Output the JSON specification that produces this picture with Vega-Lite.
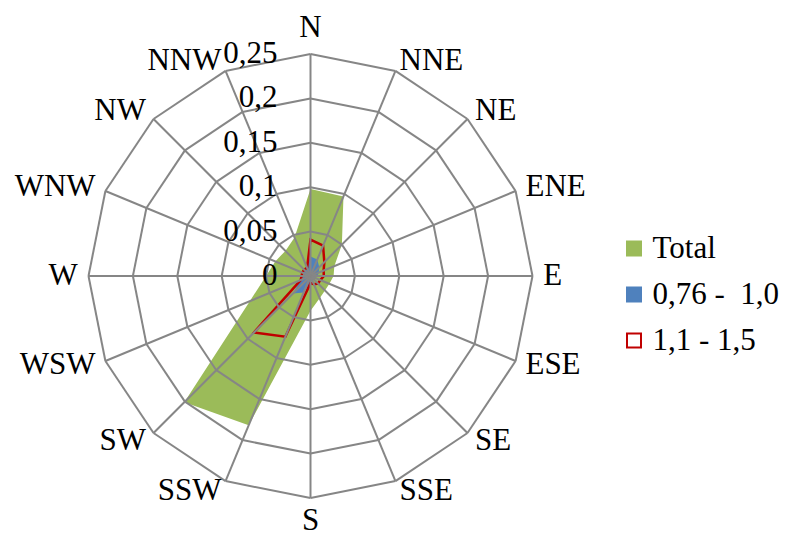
{
  "$schema": "https://vega.github.io/schema/vega-lite/v6.json",
  "width": 444,
  "height": 444,
  "autosize": {"type": "none"},
  "padding": {"left": 88.5, "top": 54, "right": 253.5, "bottom": 40},
  "background": "white",
  "config": {
    "view": {"stroke": null},
    "text": {"font": "Liberation Serif, Times New Roman, serif", "fontSize": 31, "color": "black"},
    "legend": {
      "orient": "none", "legendX": 530, "legendY": 179, "title": null,
      "symbolType": "square", "symbolSize": 196, "symbolStrokeWidth": 2,
      "labelFont": "Liberation Serif, Times New Roman, serif", "labelFontSize": 31, "labelColor": "black",
      "labelOffset": 3, "rowPadding": 14
    }
  },
  "datasets": {
    "dirs": [
      {"i": 0, "dir": "N", "total": 0.098, "blue": 0.022, "red": 0.041},
      {"i": 1, "dir": "NNE", "total": 0.097, "blue": 0.02, "red": 0.037},
      {"i": 2, "dir": "NE", "total": 0.05, "blue": 0.014, "red": 0.022},
      {"i": 3, "dir": "ENE", "total": 0.029, "blue": 0.01, "red": 0.016},
      {"i": 4, "dir": "E", "total": 0.026, "blue": 0.008, "red": 0.015},
      {"i": 5, "dir": "ESE", "total": 0.023, "blue": 0.006, "red": 0.012},
      {"i": 6, "dir": "SE", "total": 0.023, "blue": 0.005, "red": 0.012},
      {"i": 7, "dir": "SSE", "total": 0.027, "blue": 0.005, "red": 0.01},
      {"i": 8, "dir": "S", "total": 0.039, "blue": 0.008, "red": 0.008},
      {"i": 9, "dir": "SSW", "total": 0.182, "blue": 0.02, "red": 0.074},
      {"i": 10, "dir": "SW", "total": 0.201, "blue": 0.028, "red": 0.09},
      {"i": 11, "dir": "WSW", "total": 0.074, "blue": 0.012, "red": 0.012},
      {"i": 12, "dir": "W", "total": 0.05, "blue": 0.008, "red": 0.01},
      {"i": 13, "dir": "WNW", "total": 0.043, "blue": 0.008, "red": 0.01},
      {"i": 14, "dir": "NW", "total": 0.04, "blue": 0.01, "red": 0.01},
      {"i": 15, "dir": "NNW", "total": 0.047, "blue": 0.012, "red": 0.01}
    ],
    "levels": [
      {"v": 0, "label": "0"},
      {"v": 0.05, "label": "0,05"},
      {"v": 0.1, "label": "0,1"},
      {"v": 0.15, "label": "0,15"},
      {"v": 0.2, "label": "0,2"},
      {"v": 0.25, "label": "0,25"}
    ]
  },
  "layer": [
    {
      "data": {"name": "dirs"},
      "transform": [
        {"fold": ["total", "blue"], "as": ["series", "value"]},
        {"calculate": "datum.value * sin(datum.i * PI / 8)", "as": "px"},
        {"calculate": "datum.value * cos(datum.i * PI / 8)", "as": "py"}
      ],
      "mark": {"type": "line", "interpolate": "linear-closed", "filled": true, "strokeWidth": 0},
      "encoding": {
        "x": {"field": "px", "type": "quantitative", "scale": {"domain": [-0.25, 0.25], "nice": false, "zero": false}, "axis": null},
        "y": {"field": "py", "type": "quantitative", "scale": {"domain": [-0.25, 0.25], "nice": false, "zero": false}, "axis": null},
        "order": {"field": "i", "type": "quantitative"},
        "fill": {
          "field": "series", "type": "nominal",
          "scale": {"domain": ["total", "blue", "red"], "range": ["#9BBB59", "#4F81BD", "#ffffff"]},
          "legend": {
            "labelExpr": "datum.value == 'total' ? 'Total' : datum.value == 'blue' ? '0,76 -\u00a0 1,0' : '1,1 - 1,5'"
          }
        }
      }
    },
    {
      "data": {"name": "dirs"},
      "transform": [
        {"fold": ["red"], "as": ["series", "value"]},
        {"calculate": "datum.value * sin(datum.i * PI / 8)", "as": "px"},
        {"calculate": "datum.value * cos(datum.i * PI / 8)", "as": "py"}
      ],
      "mark": {"type": "line", "interpolate": "linear-closed", "strokeWidth": 2.5},
      "encoding": {
        "x": {"field": "px", "type": "quantitative"},
        "y": {"field": "py", "type": "quantitative"},
        "order": {"field": "i", "type": "quantitative"},
        "stroke": {
          "field": "series", "type": "nominal",
          "scale": {"domain": ["total", "blue", "red"], "range": ["#9BBB59", "#4F81BD", "#C00000"]},
          "legend": {
            "labelExpr": "datum.value == 'total' ? 'Total' : datum.value == 'blue' ? '0,76 -\u00a0 1,0' : '1,1 - 1,5'"
          }
        }
      }
    },
    {
      "data": {"name": "dirs"},
      "transform": [
        {"calculate": "[0.05, 0.1, 0.15, 0.2, 0.25]", "as": "lv"},
        {"flatten": ["lv"]},
        {"calculate": "datum.lv * sin(datum.i * PI / 8)", "as": "ax"},
        {"calculate": "datum.lv * cos(datum.i * PI / 8)", "as": "ay"},
        {"calculate": "datum.lv * sin((datum.i + 1) * PI / 8)", "as": "bx"},
        {"calculate": "datum.lv * cos((datum.i + 1) * PI / 8)", "as": "by"}
      ],
      "mark": {"type": "rule", "color": "#868686", "strokeWidth": 2},
      "encoding": {
        "x": {"field": "ax", "type": "quantitative"},
        "y": {"field": "ay", "type": "quantitative"},
        "x2": {"field": "bx"},
        "y2": {"field": "by"}
      }
    },
    {
      "data": {"name": "dirs"},
      "transform": [
        {"calculate": "0", "as": "ox"},
        {"calculate": "0.25 * sin(datum.i * PI / 8)", "as": "ex"},
        {"calculate": "0.25 * cos(datum.i * PI / 8)", "as": "ey"}
      ],
      "mark": {"type": "rule", "color": "#868686", "strokeWidth": 2},
      "encoding": {
        "x": {"field": "ox", "type": "quantitative"},
        "y": {"field": "ox", "type": "quantitative"},
        "x2": {"field": "ex"},
        "y2": {"field": "ey"}
      }
    },
    {
      "data": {"name": "levels"},
      "transform": [{"calculate": "0", "as": "ox"}],
      "mark": {"type": "text", "align": "right", "baseline": "middle", "dx": -33},
      "encoding": {
        "x": {"field": "ox", "type": "quantitative"},
        "y": {"field": "v", "type": "quantitative"},
        "text": {"field": "label"}
      }
    },
    {
      "data": {"name": "dirs"},
      "transform": [
        {"filter": "datum.i >= 1 && datum.i <= 7"},
        {"calculate": "0.262 * sin(datum.i * PI / 8)", "as": "lx"},
        {"calculate": "0.262 * cos(datum.i * PI / 8)", "as": "ly"}
      ],
      "mark": {"type": "text", "align": "left", "baseline": "middle"},
      "encoding": {
        "x": {"field": "lx", "type": "quantitative"},
        "y": {"field": "ly", "type": "quantitative"},
        "text": {"field": "dir"}
      }
    },
    {
      "data": {"name": "dirs"},
      "transform": [
        {"filter": "datum.i >= 9"},
        {"calculate": "0.262 * sin(datum.i * PI / 8)", "as": "lx"},
        {"calculate": "0.262 * cos(datum.i * PI / 8)", "as": "ly"}
      ],
      "mark": {"type": "text", "align": "right", "baseline": "middle"},
      "encoding": {
        "x": {"field": "lx", "type": "quantitative"},
        "y": {"field": "ly", "type": "quantitative"},
        "text": {"field": "dir"}
      }
    },
    {
      "data": {"name": "dirs"},
      "transform": [
        {"filter": "datum.i == 0 || datum.i == 8"},
        {"calculate": "0", "as": "ox"},
        {"calculate": "datum.i == 0 ? 0.279 : -0.276", "as": "ly"}
      ],
      "mark": {"type": "text", "align": "center", "baseline": "middle"},
      "encoding": {
        "x": {"field": "ox", "type": "quantitative"},
        "y": {"field": "ly", "type": "quantitative"},
        "text": {"field": "dir"}
      }
    }
  ]
}
